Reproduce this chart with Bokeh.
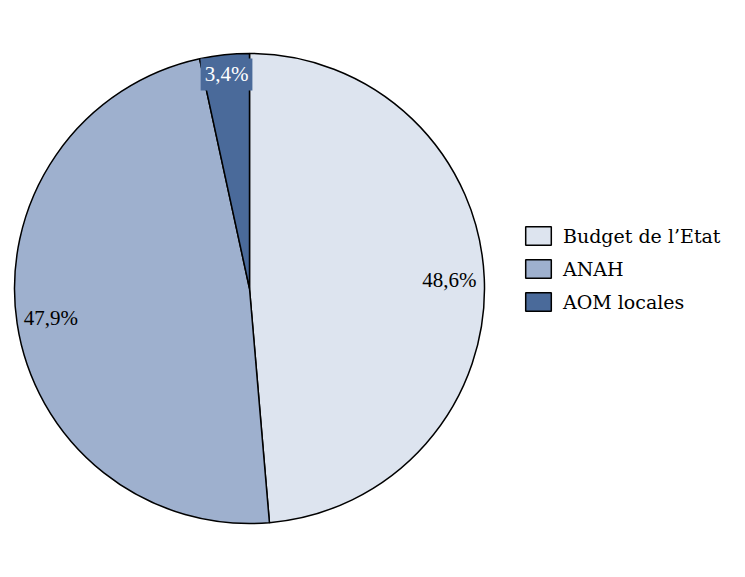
import math
from bokeh.plotting import figure
from bokeh.models import ColumnDataSource, Range1d, Legend, LegendItem, Label
from bokeh.embed import file_html
from bokeh.resources import INLINE

categories = ["Budget de l\u2019Etat", "ANAH", "AOM locales"]
values = [48.6, 47.9, 3.4]
value_labels = ["48,6%", "47,9%", "3,4%"]
colors = ["#dde4ef", "#9eb0ce", "#4a6a9a"]

W, H = 729, 561
cx, cy, R = 249, 273, 235
label_rf = [0.851, 0.855, 0.916]

total = sum(values)
starts, ends, mids = [], [], []
cum = 0.0
for v in values:
    a0 = math.pi / 2 - (cum + v) / total * 2 * math.pi
    a1 = math.pi / 2 - cum / total * 2 * math.pi
    starts.append(a0)
    ends.append(a1)
    mids.append((a0 + a1) / 2)
    cum += v

src = ColumnDataSource(dict(cat=categories, start=starts, end=ends, color=colors))

p = figure(width=W, height=H, output_backend="svg", toolbar_location=None,
           x_range=Range1d(0, W), y_range=Range1d(0, H), min_border=0)
p.axis.visible = False
p.grid.visible = False
p.outline_line_color = None

r = p.wedge(x=cx, y=cy, radius=R, start_angle="start", end_angle="end",
            fill_color="color", line_color="black", line_width=1.5, source=src)

for i, (lab, m, f) in enumerate(zip(value_labels, mids, label_rf)):
    x = cx + f * R * math.cos(m)
    y = cy + f * R * math.sin(m)
    if i == 2:
        p.add_layout(Label(x=x, y=y, text=lab, text_align="center", text_baseline="middle",
                           text_font="Liberation Serif", text_font_size="21px", text_color="white",
                           background_fill_color=colors[i], padding=4))
    else:
        p.add_layout(Label(x=x, y=y, text=lab, text_align="center", text_baseline="middle",
                           text_font="Liberation Serif", text_font_size="21px", text_color="black"))

items = [LegendItem(label=c, renderers=[r], index=i) for i, c in enumerate(categories)]
legend = Legend(items=items, location=(522, 248), glyph_width=32, glyph_height=23,
                label_height=23, spacing=10, padding=0, margin=0, label_standoff=9,
                label_text_font="DejaVu Serif", label_text_font_size="19px",
                label_text_color="black",
                border_line_color=None, background_fill_alpha=0)
p.add_layout(legend)

open("out.html", "w").write(file_html(p, INLINE))
